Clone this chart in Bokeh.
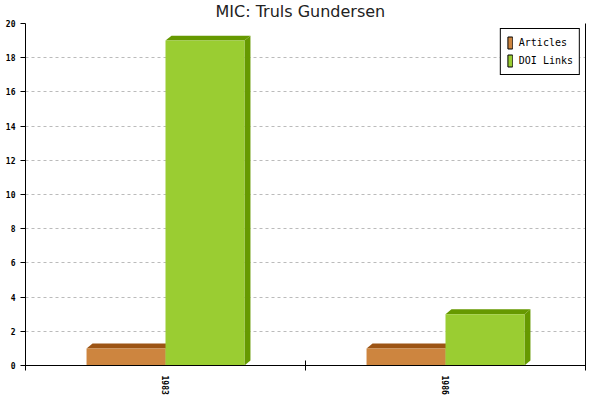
from bokeh.plotting import figure
from bokeh.models import Range1d, FixedTicker, LinearAxis, Legend, LegendItem
from bokeh.embed import file_html
from bokeh.resources import INLINE

# ---- data ----
years = ["1983", "1986"]
articles = [1, 1]
doi_links = [19, 3]
series_names = ["Articles", "DOI Links"]
y_ticks = [0, 2, 4, 6, 8, 10, 12, 14, 16, 18, 20]
title_text = "MIC: Truls Gundersen"

# ---- style ----
front_colors = ["#CD853F", "#9ACD32"]
dark_colors = ["#9C5414", "#669900"]
bar_w = 0.282      # width of each bar (category = 1 unit)
dx = 0.0214        # 3D depth in x (data units)
dy = 0.29          # 3D depth in y (data units)

n = len(years)
p = figure(width=600, height=400, output_backend="svg", toolbar_location=None,
           x_range=Range1d(0, n), y_range=Range1d(0, 20),
           min_border_left=25, min_border_right=15, min_border_top=22, min_border_bottom=35)
p.background_fill_color = "white"
p.border_fill_color = "white"
p.outline_line_color = None

p.title.text = title_text
p.title.align = "left"
p.title.offset = 190
p.title.vertical_align = "top"
p.title.text_font = "DejaVu Sans"
p.title.text_font_size = "16px"
p.title.text_font_style = "normal"
p.title.text_color = "#222222"
p.title.standoff = 2

series = [articles, doi_links]
renderers = []
nan = float("nan")
for si, vals in enumerate(series):
    lefts = [i + 0.5 - bar_w + si * bar_w for i in range(n)]
    rights = [l + bar_w for l in lefts]
    # side faces
    side_xs = [[r, r + dx, r + dx, r] for r in rights]
    side_ys = [[0, dy, v + dy, v] for v in vals]
    p.patches(xs=side_xs, ys=side_ys, fill_color=dark_colors[si], line_color=None)
    # top faces
    top_xs = [[l, l + dx, r + dx, r] for l, r in zip(lefts, rights)]
    top_ys = [[v, v + dy, v + dy, v] for v in vals]
    p.patches(xs=top_xs, ys=top_ys, fill_color=dark_colors[si], line_color=None)
    # front faces
    p.quad(left=lefts, right=rights, bottom=[0] * n, top=vals,
           fill_color=front_colors[si], line_color=None)
    # legend swatch renderer (not drawn in the plot: NaN coordinates)
    r = p.quad(left=[nan], right=[nan], bottom=[nan], top=[nan],
               fill_color=front_colors[si], line_color="black", line_width=1)
    renderers.append(r)

# y axis
p.yaxis.ticker = FixedTicker(ticks=y_ticks)
p.yaxis.major_tick_out = 5
p.yaxis.major_tick_in = 0
p.yaxis.minor_tick_out = 0
p.yaxis.minor_tick_in = 0
p.yaxis.major_label_standoff = 5
p.yaxis.major_label_text_font = "DejaVu Sans Mono"
p.yaxis.major_label_text_font_style = "bold"
p.yaxis.major_label_text_font_size = "8px"
p.yaxis.major_label_text_color = "black"
p.yaxis.axis_line_color = "black"
p.yaxis.major_tick_line_color = "black"

# x axis
centers = [i + 0.5 for i in range(n)]
bounds = [i for i in range(n + 1)]
p.xaxis.ticker = FixedTicker(ticks=centers, minor_ticks=bounds)
p.xaxis.major_label_overrides = {c: y for c, y in zip(centers, years)}
p.xaxis.major_tick_in = 0
p.xaxis.major_tick_out = 0
p.xaxis.minor_tick_in = 5
p.xaxis.minor_tick_out = 5
p.xaxis.minor_tick_line_color = "black"
p.xaxis.major_label_orientation = "vertical"
p.xaxis.major_label_standoff = 5
p.xaxis.major_label_text_font = "DejaVu Sans Mono"
p.xaxis.major_label_text_font_style = "bold"
p.xaxis.major_label_text_font_size = "8px"
p.xaxis.major_label_text_color = "black"
p.xaxis.axis_line_color = "black"

# right border line
right_axis = LinearAxis(ticker=FixedTicker(ticks=[]), major_label_text_font_size="0px",
                        major_tick_out=0, major_tick_in=0, minor_tick_out=0, minor_tick_in=0,
                        major_label_standoff=0, axis_line_color="black")
p.add_layout(right_axis, "right")

# grid
p.xgrid.grid_line_color = None
p.ygrid.ticker = FixedTicker(ticks=y_ticks)
p.ygrid.grid_line_color = "#BBBBBB"
p.ygrid.grid_line_dash = "3 3"

legend = Legend(items=[LegendItem(label=name, renderers=[r]) for name, r in zip(series_names, renderers)],
                location="top_right", border_line_color="black", border_line_width=1,
                border_line_alpha=1,
                background_fill_color="white", background_fill_alpha=1,
                label_text_font="DejaVu Sans Mono", label_text_font_size="10px",
                label_text_color="black",
                glyph_width=6, glyph_height=15, spacing=3, padding=6, margin=5,
                label_standoff=6, label_height=15)
p.add_layout(legend)

open("out.html", "w").write(file_html(p, INLINE))
